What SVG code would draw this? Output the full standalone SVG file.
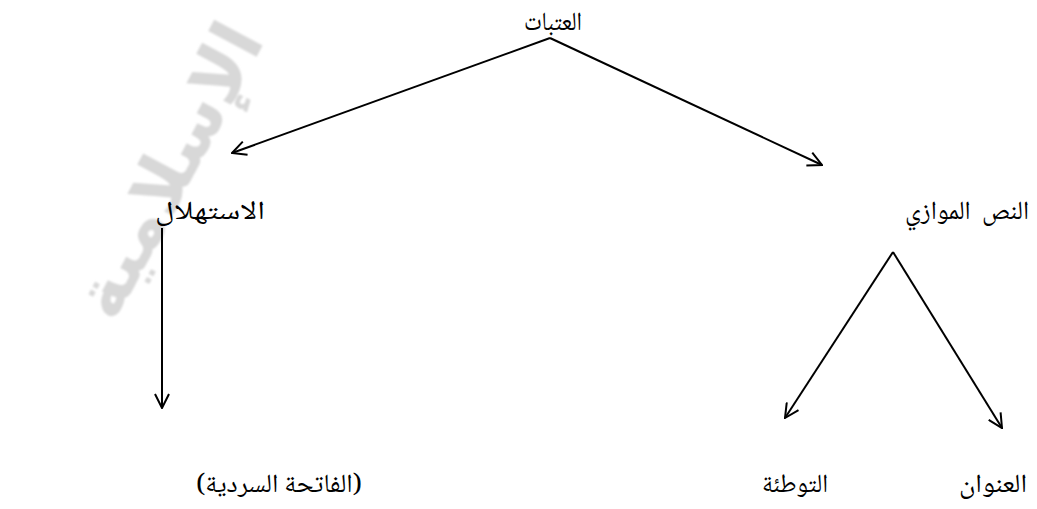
<svg xmlns="http://www.w3.org/2000/svg" width="1037" height="509" viewBox="0 0 1037 509">
  <style>
    .lbl { font-family: "Noto Naskh Arabic", "Amiri", "DejaVu Sans", sans-serif; font-size: 26px; fill: #000; text-anchor: middle; }
    .wm { font-family: "DejaVu Sans", sans-serif; font-size: 72px; font-weight: bold; fill: #d8d8d8; text-anchor: middle; }
    .edge { stroke: #000; stroke-width: 2; fill: none; marker-end: url(#vee); }
  </style>
  <defs>
    <marker id="vee" viewBox="0 0 16 16" refX="15" refY="8" markerWidth="16" markerHeight="16" markerUnits="userSpaceOnUse" orient="auto">
      <path d="M1,1 L15,8 L1,15" fill="none" stroke="#000" stroke-width="2" stroke-linejoin="miter"/>
    </marker>
    <filter id="soft" x="-10%" y="-10%" width="120%" height="120%">
      <feGaussianBlur stdDeviation="0.8"/>
    </filter>
  </defs>

  <rect width="1037" height="509" fill="#fff"/>

  <!-- faint background watermark -->
  <g id="watermark" filter="url(#soft)">
    <text class="wm" transform="translate(190,182) rotate(-62)">الإسلامية</text>
  </g>

  <!-- connectors -->
  <g id="connectors">
    <line class="edge" x1="550" y1="38" x2="232" y2="153"/>
    <line class="edge" x1="550" y1="38" x2="822" y2="165"/>
    <line class="edge" x1="162" y1="228" x2="162" y2="408"/>
    <line class="edge" x1="893" y1="252" x2="785" y2="418"/>
    <line class="edge" x1="893" y1="252" x2="1002" y2="428"/>
  </g>

  <g id="n-root">
    <text class="lbl" x="553" y="30" textLength="58" lengthAdjust="spacingAndGlyphs">العتبات</text>
  </g>
  <g id="n-istihlal">
    <text class="lbl" x="210" y="219" textLength="110" lengthAdjust="spacingAndGlyphs">الاستهلال</text>
  </g>
  <g id="n-paratext">
    <text class="lbl" x="967" y="219" textLength="124" lengthAdjust="spacingAndGlyphs" xml:space="preserve" style="white-space: pre">النص  الموازي</text>
  </g>
  <g id="n-fatiha">
    <text class="lbl" x="279" y="492" textLength="166" lengthAdjust="spacingAndGlyphs">(الفاتحة السردية)</text>
  </g>
  <g id="n-tawtia">
    <text class="lbl" x="795" y="492" textLength="66" lengthAdjust="spacingAndGlyphs">التوطئة</text>
  </g>
  <g id="n-unwan">
    <text class="lbl" x="993" y="492" textLength="68" lengthAdjust="spacingAndGlyphs">العنوان</text>
  </g>
</svg>
